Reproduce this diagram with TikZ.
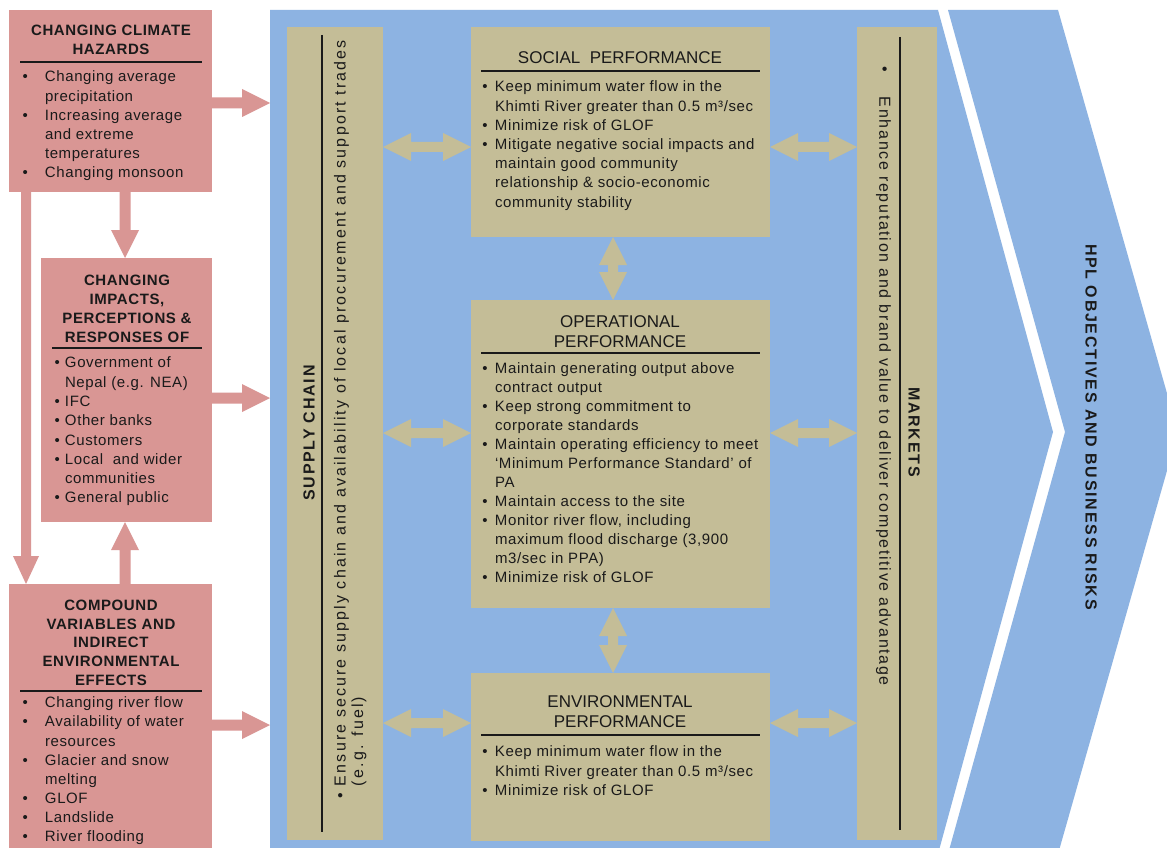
\documentclass[tikz,border=0pt]{standalone}
\usepackage{fontspec}
\setmainfont{Liberation Sans}
\newfontfamily\bodyf{Liberation Sans}[LetterSpace=4]
\newfontfamily\titlef{Liberation Sans}
\newfontfamily\rotf{Liberation Sans}
\newfontfamily\rottitlef{Liberation Sans}[LetterSpace=11]
\usetikzlibrary{calc}
\definecolor{bluec}{HTML}{8DB3E2}
\definecolor{tanc}{HTML}{C4BD97}
\definecolor{pinkc}{HTML}{D99694}
\definecolor{inkc}{HTML}{1A1A1A}
\newcommand\bul[1]{\makebox[#1][l]{\textbullet}}
\newcommand\ind[1]{\hspace*{#1}}
% letter spacing fitted to a target length
\newlength\fitwA \newlength\fitwB
\newcommand\fitls[2]{%
  \settowidth\fitwA{#2}%
  \settowidth\fitwB{\addfontfeature{LetterSpace=10}#2}%
  \xdef\fitlsval{\fpeval{round(10*(#1-\fitwA)/(\fitwB-\fitwA),2)}}%
}
\newcommand\withls[1]{{\edef\fitnext{\noexpand\addfontfeature{LetterSpace=\fitlsval}}\fitnext #1}}
% single block arrow: style, from, to, shaft half, head half, head length
\newcommand\singlearrow[6]{%
  \coordinate (sa-h) at ($(#3)!#6!(#2)$);
  \fill[#1] ($(#2)!#4!90:(#3)$) -- ($(sa-h)!#4!90:(#3)$) -- ($(sa-h)!#5!90:(#3)$) -- (#3)
    -- ($(sa-h)!#5!-90:(#3)$) -- ($(sa-h)!#4!-90:(#3)$) -- ($(#2)!#4!-90:(#3)$) -- cycle;
}
% double block arrow
\newcommand\doublearrow[6]{%
  \coordinate (da-a) at ($(#2)!#6!(#3)$);
  \coordinate (da-b) at ($(#3)!#6!(#2)$);
  \fill[#1] (#2) -- ($(da-a)!#5!90:(#3)$) -- ($(da-a)!#4!90:(#3)$) -- ($(da-b)!#4!90:(#3)$)
    -- ($(da-b)!#5!90:(#3)$) -- (#3) -- ($(da-b)!#5!-90:(#3)$) -- ($(da-b)!#4!-90:(#3)$)
    -- ($(da-a)!#4!-90:(#3)$) -- ($(da-a)!#5!-90:(#3)$) -- cycle;
}
\tikzset{
  pinkbox/.style={fill=pinkc, draw=none, inner sep=0pt, outer sep=0pt, anchor=north west},
  tanbox/.style={fill=tanc, draw=none, inner sep=0pt, outer sep=0pt, anchor=north west},
  tx/.style={inner sep=0pt, outer sep=0pt, text=inkc},
  ltitle/.style={tx, align=center, anchor=north, font=\bodyf\bfseries\fontsize{15}{19}\selectfont},
  lbody/.style={tx, align=left, anchor=north west, font=\bodyf\fontsize{15}{19.2}\selectfont},
  ctitle/.style={tx, align=center, anchor=north, font=\titlef\fontsize{17}{19.5}\selectfont},
  rtitle/.style={tx, font=\rottitlef\bfseries\fontsize{16}{19}\selectfont},
  rbody/.style={tx, align=left, anchor=north west, font=\rotf\fontsize{16}{17.5}\selectfont},
  rulel/.style={draw=inkc, line width=1.2pt},
}
\begin{document}
\begin{tikzpicture}[x=1pt,y=-1pt]
\useasboundingbox (0,0) rectangle (1167,848);
\clip (0,0) rectangle (1167,848);
\fill[white] (0,0) rectangle (1167,848);
% blue panels
\fill[bluec] (270,10) -- (938,10) -- (1053,432) -- (938,854) -- (270,854) -- cycle;
\fill[bluec] (948,10) -- (1058,10) -- (1178,432) -- (1058,854) -- (948,854) -- (1065,432) -- cycle;
% coordinates
\coordinate (pin1) at (270,103);
\coordinate (pin2) at (270,398);
\coordinate (pin3) at (270,725);
\coordinate (r1) at (0,147);
\coordinate (r2) at (0,433);
\coordinate (r3) at (0,723);
\coordinate (vc) at (613,0);
\coordinate (vx) at (125,0);
\coordinate (lx) at (26,0);
% pink boxes
\node[pinkbox, minimum width=203pt, minimum height=182pt] (hz) at (9,10) {};
\node[pinkbox, minimum width=171pt, minimum height=264pt] (imp) at (41,258) {};
\node[pinkbox, minimum width=203pt, minimum height=270pt] (cmp) at (9,584) {};
% tan boxes
\node[tanbox, minimum width=96pt, minimum height=813pt] (sc) at (287,27) {};
\node[tanbox, minimum width=299pt, minimum height=210pt] (soc) at (471,27) {};
\node[tanbox, minimum width=299pt, minimum height=308pt] (op) at (471,300) {};
\node[tanbox, minimum width=299pt, minimum height=168pt] (env) at (471,673) {};
\node[tanbox, minimum width=80pt, minimum height=813pt] (mk) at (857,27) {};
% pink arrows
\coordinate (p1a) at (hz.east |- pin1);
\coordinate (p2a) at (imp.east |- pin2);
\coordinate (p3a) at (cmp.east |- pin3);
\singlearrow{pinkc}{p1a}{pin1}{5.5pt}{14pt}{28pt}
\singlearrow{pinkc}{p2a}{pin2}{5.5pt}{14pt}{28pt}
\singlearrow{pinkc}{p3a}{pin3}{5.5pt}{14pt}{28pt}
\coordinate (d1a) at (hz.south -| vx);
\coordinate (d1b) at (imp.north -| vx);
\singlearrow{pinkc}{d1a}{d1b}{5.5pt}{14pt}{28pt}
\coordinate (u1a) at (cmp.north -| vx);
\coordinate (u1b) at (imp.south -| vx);
\singlearrow{pinkc}{u1a}{u1b}{5.5pt}{14pt}{28pt}
\coordinate (l1a) at (hz.south -| lx);
\coordinate (l1b) at (cmp.north -| lx);
\singlearrow{pinkc}{l1a}{l1b}{5pt}{13pt}{28pt}
% tan arrows
\coordinate (t1a) at (sc.east |- r1); \coordinate (t1b) at (soc.west |- r1);
\coordinate (t2a) at (sc.east |- r2); \coordinate (t2b) at (op.west |- r2);
\coordinate (t3a) at (sc.east |- r3); \coordinate (t3b) at (env.west |- r3);
\coordinate (t4a) at (soc.east |- r1); \coordinate (t4b) at (mk.west |- r1);
\coordinate (t5a) at (op.east |- r2); \coordinate (t5b) at (mk.west |- r2);
\coordinate (t6a) at (env.east |- r3); \coordinate (t6b) at (mk.west |- r3);
\coordinate (t7a) at (soc.south -| vc); \coordinate (t7b) at (op.north -| vc);
\coordinate (t8a) at (op.south -| vc); \coordinate (t8b) at (env.north -| vc);
\doublearrow{tanc}{t1a}{t1b}{5pt}{14pt}{28pt}
\doublearrow{tanc}{t2a}{t2b}{5pt}{14pt}{28pt}
\doublearrow{tanc}{t3a}{t3b}{5pt}{14pt}{28pt}
\doublearrow{tanc}{t4a}{t4b}{5pt}{14pt}{28pt}
\doublearrow{tanc}{t5a}{t5b}{5pt}{14pt}{28pt}
\doublearrow{tanc}{t6a}{t6b}{5pt}{14pt}{28pt}
\doublearrow{tanc}{t7a}{t7b}{5pt}{14pt}{28pt}
\doublearrow{tanc}{t8a}{t8b}{5pt}{14pt}{28pt}
% left box texts
\node[ltitle] (hzT) at (111,25) {CHANGING CLIMATE\\HAZARDS};
\draw[rulel] (20,62) -- (202,62);
\node[lbody] (hzB) at (22.5,71) {\bul{22.5pt}Changing average\\
\ind{22.5pt}precipitation\\
\bul{22.5pt}Increasing average\\
\ind{22.5pt}and extreme\\
\ind{22.5pt}temperatures\\
\bul{22.5pt}Changing monsoon};
\node[ltitle] (impT) at (127,275) {CHANGING\\IMPACTS,\\PERCEPTIONS \&\\RESPONSES OF};
\draw[rulel] (52,348) -- (202,348);
\node[lbody, font=\bodyf\fontsize{15}{19.3}\selectfont] (impB) at (54.5,357) {\bul{10.5pt}Government of\\
\ind{10.5pt}Nepal (e.g. NEA)\\
\bul{10.5pt}IFC\\
\bul{10.5pt}Other banks\\
\bul{10.5pt}Customers\\
\bul{10.5pt}Local\ \ and wider\\
\ind{10.5pt}communities\\
\bul{10.5pt}General public};
\node[ltitle, font=\bodyf\bfseries\fontsize{15}{18.7}\selectfont] (cmpT) at (111,600) {COMPOUND\\VARIABLES AND\\INDIRECT\\ENVIRONMENTAL\\EFFECTS};
\draw[rulel] (20,691) -- (202,691);
\node[lbody, font=\bodyf\fontsize{15}{19.1}\selectfont] (cmpB) at (22.5,697) {\bul{22.5pt}Changing river flow\\
\bul{22.5pt}Availability of water\\
\ind{22.5pt}resources\\
\bul{22.5pt}Glacier and snow\\
\ind{22.5pt}melting\\
\bul{22.5pt}GLOF\\
\bul{22.5pt}Landslide\\
\bul{22.5pt}River flooding};
% centre box texts
\node[ctitle] (socT) at (620,52) {SOCIAL\ \ PERFORMANCE};
\draw[rulel] (481,71) -- (760,71);
\node[lbody] (socB) at (482.4,81) {\bul{12.6pt}Keep minimum water flow in the\\
\ind{12.6pt}Khimti River greater than 0.5 m³/sec\\
\bul{12.6pt}Minimize risk of GLOF\\
\bul{12.6pt}Mitigate negative social impacts and\\
\ind{12.6pt}maintain good community\\
\ind{12.6pt}relationship \& socio-economic\\
\ind{12.6pt}community stability};
\node[ctitle] (opT) at (620,316) {OPERATIONAL\\PERFORMANCE};
\draw[rulel] (481,353) -- (760,353);
\node[lbody, font=\bodyf\fontsize{15}{19}\selectfont] (opB) at (482.4,363) {\bul{12.6pt}Maintain generating output above\\
\ind{12.6pt}contract output\\
\bul{12.6pt}Keep strong commitment to\\
\ind{12.6pt}corporate standards\\
\bul{12.6pt}Maintain operating efficiency to meet\\
\ind{12.6pt}‘Minimum Performance Standard’ of\\
\ind{12.6pt}PA\\
\bul{12.6pt}Maintain access to the site\\
\bul{12.6pt}Monitor river flow, including\\
\ind{12.6pt}maximum flood discharge (3,900\\
\ind{12.6pt}m3/sec in PPA)\\
\bul{12.6pt}Minimize risk of GLOF};
\node[ctitle] (envT) at (620,696) {ENVIRONMENTAL\\PERFORMANCE};
\draw[rulel] (481,735) -- (760,735);
\node[lbody] (envB) at (482.4,746) {\bul{12.6pt}Keep minimum water flow in the\\
\ind{12.6pt}Khimti River greater than 0.5 m³/sec\\
\bul{12.6pt}Minimize risk of GLOF};
% supply chain
\node[rtitle, rotate=90] (scT) at (309,433) {SUPPLY CHAIN};
\draw[rulel] (322,35) -- (322,832);
\node[rbody, rotate=90] (scB) at (334,798) {\fitls{746pt}{Ensure secure supply chain and availability of local procurement and support trades}\bul{12pt}\withls{Ensure secure supply chain and availability of local procurement and support trades}\\
\ind{12pt}\withls{(e.g. fuel)}};
% markets
\node[rtitle, rotate=-90] (mkT) at (914,432) {MARKETS};
\draw[rulel] (900,37) -- (900,830);
\node[rbody, rotate=-90] (mkB) at (891,67) {\fitls{589pt}{Enhance reputation and brand value to deliver competitive advantage}\bul{30pt}\withls{Enhance reputation and brand value to deliver competitive advantage}};
% chevron label
\node[rtitle, rotate=-90] (hpl) at (1091,427) {HPL OBJECTIVES AND BUSINESS RISKS};
\end{tikzpicture}
\end{document}
